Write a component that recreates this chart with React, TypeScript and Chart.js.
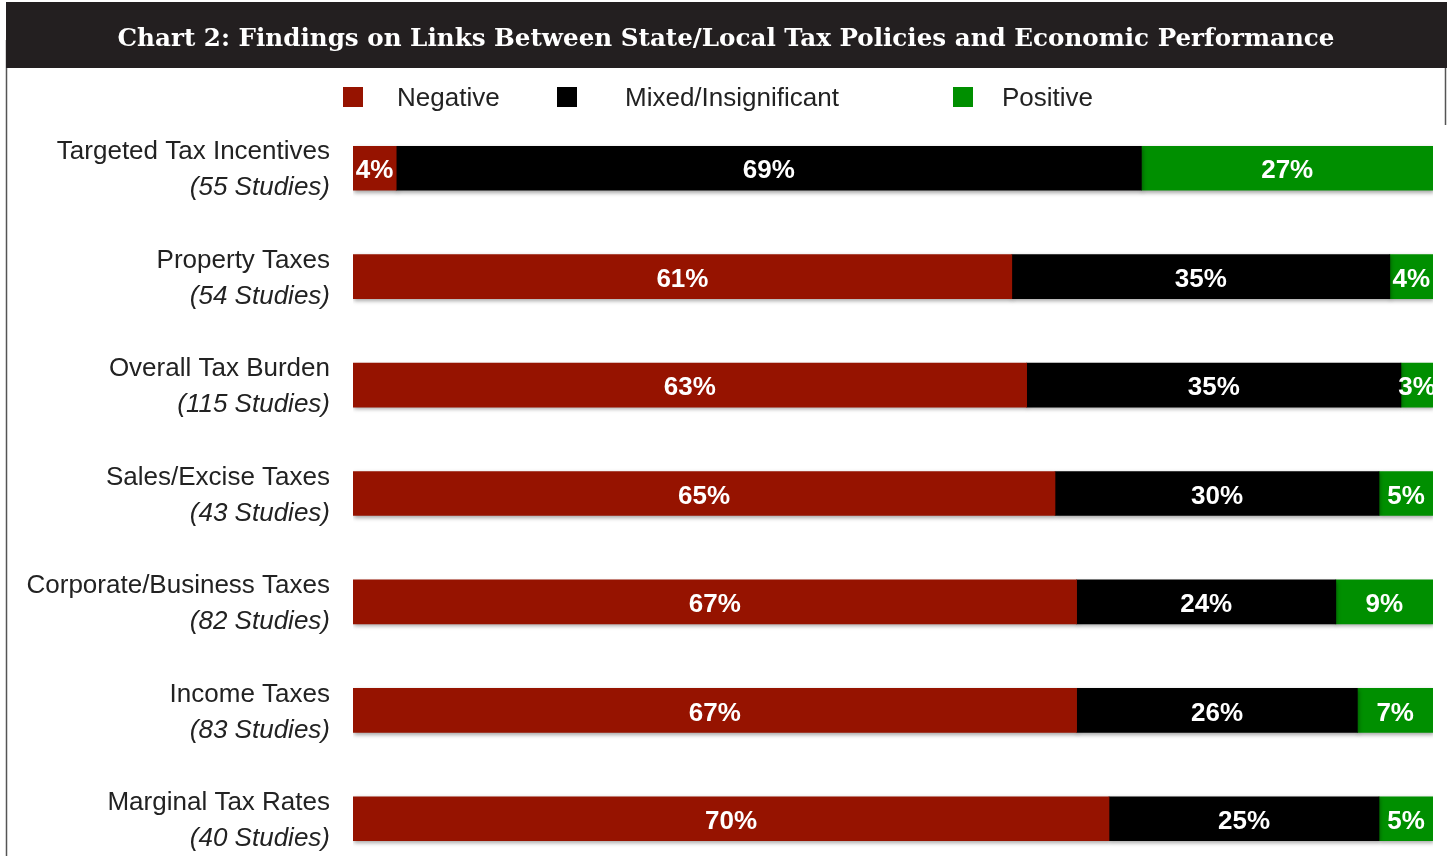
import React, { useEffect, useRef } from "react";
import { Chart, registerables } from "chart.js";

Chart.register(...registerables);

const TITLE = "Chart 2: Findings on Links Between State/Local Tax Policies and Economic Performance";
const categories = [
  "Targeted Tax Incentives",
  "Property Taxes",
  "Overall Tax Burden",
  "Sales/Excise Taxes",
  "Corporate/Business Taxes",
  "Income Taxes",
  "Marginal Tax Rates",
];
const studies = [
  "(55 Studies)",
  "(54 Studies)",
  "(115 Studies)",
  "(43 Studies)",
  "(82 Studies)",
  "(83 Studies)",
  "(40 Studies)",
];
const seriesNames = ["Negative", "Mixed/Insignificant", "Positive"];
const negative = [4, 61, 63, 65, 67, 67, 70];
const mixed = [69, 35, 35, 30, 24, 26, 25];
const positive = [27, 4, 3, 5, 9, 7, 5];
const colors = ["#961300", "#000000", "#008f00"];

const SANS = '"Liberation Sans", Arial, Helvetica, sans-serif';

export default function App() {
  const ref = useRef<HTMLCanvasElement | null>(null);

  useEffect(() => {
    const canvas = ref.current;
    if (!canvas) return;
    const raw = [negative, mixed, positive];
    const totals = categories.map((_, i) => negative[i] + mixed[i] + positive[i]);
    const datasets = raw.map((arr, k) => ({
      label: seriesNames[k],
      data: arr.map((v, i) => (v / totals[i]) * 100),
      raw: arr,
      backgroundColor: colors[k],
      borderWidth: 0,
      barThickness: 44,
    }));

    const decor = {
      id: "decor",
      beforeDraw(chart: any) {
        const ctx = chart.ctx;
        ctx.save();
        ctx.fillStyle = "#ffffff";
        ctx.fillRect(0, 0, chart.width, chart.height);
        // frame lines
        ctx.strokeStyle = "#555";
        ctx.lineWidth = 1.5;
        ctx.beginPath();
        ctx.moveTo(6.5, 40);
        ctx.lineTo(6.5, chart.height);
        ctx.moveTo(1445.5, 40);
        ctx.lineTo(1445.5, 125);
        ctx.stroke();
        // title bar
        ctx.fillStyle = "#231f20";
        ctx.fillRect(6, 2, 1441, 66);
        ctx.fillStyle = "#ffffff";
        ctx.font = 'bold 24.6px "DejaVu Serif", "Liberation Serif", serif';
        ctx.textAlign = "center";
        ctx.textBaseline = "alphabetic";
        ctx.fillText(TITLE, 726, 46);
        // legend
        const legendBox = [343, 557, 953];
        const legendText = [397, 625, 1002];
        ctx.font = "26px " + SANS;
        ctx.textAlign = "left";
        ctx.textBaseline = "middle";
        for (let k = 0; k < 3; k++) {
          ctx.fillStyle = colors[k];
          ctx.fillRect(legendBox[k], 87, 20, 20);
          ctx.fillStyle = "#222";
          ctx.fillText(seriesNames[k], legendText[k], 99);
        }
        // row labels
        const y = chart.scales.y;
        ctx.textAlign = "right";
        ctx.fillStyle = "#222";
        categories.forEach((c, i) => {
          const cy = y.getPixelForValue(i);
          ctx.font = "26px " + SANS;
          ctx.fillText(c, 330, cy - 16);
          ctx.font = "italic 26px " + SANS;
          ctx.fillText(studies[i], 330, cy + 20);
        });
        ctx.restore();
      },
      beforeDatasetsDraw(chart: any) {
        const ctx = chart.ctx;
        ctx.save();
        ctx.shadowColor = "rgba(0,0,0,0.35)";
        ctx.shadowBlur = 4;
        ctx.shadowOffsetY = 2;
        ctx.shadowOffsetX = 1;
      },
      afterDatasetsDraw(chart: any) {
        const ctx = chart.ctx;
        ctx.restore();
        ctx.save();
        ctx.fillStyle = "#ffffff";
        ctx.font = "bold 26px " + SANS;
        ctx.textAlign = "center";
        ctx.textBaseline = "middle";
        chart.data.datasets.forEach((ds: any, k: number) => {
          const meta = chart.getDatasetMeta(k);
          meta.data.forEach((bar: any, i: number) => {
            const cx = (bar.x + bar.base) / 2;
            ctx.fillText(ds.raw[i] + "%", cx, bar.y + 3);
          });
        });
        ctx.restore();
      },
    };

    const chart = new Chart(canvas, {
      type: "bar",
      data: { labels: categories, datasets: datasets as any },
      options: {
        indexAxis: "y",
        responsive: false,
        animation: false,
        devicePixelRatio: 1,
        layout: { padding: { left: 353, right: 15, top: 114, bottom: 7 } },
        plugins: {
          legend: { display: false },
          title: { display: false },
          tooltip: { enabled: false },
        },
        scales: {
          x: { stacked: true, min: 0, max: 100, display: false },
          y: { stacked: true, display: false },
        },
      },
      plugins: [decor],
    });
    return () => chart.destroy();
  }, []);

  return (
    <div
      style={{
        position: "fixed",
        left: 0,
        top: 0,
        width: 1448,
        height: 856,
        overflow: "hidden",
        background: "#fff",
      }}
    >
      <canvas ref={ref} width={1448} height={880} style={{ display: "block", width: 1448, height: 880 }} />
    </div>
  );
}
